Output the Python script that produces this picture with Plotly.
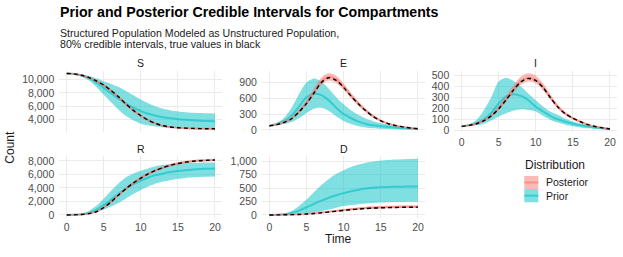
import plotly.graph_objects as go

# ---------------- data ----------------
time = list(range(21))

S_true      = [10910,10840,10640,10300,9800,9180,8350,7420,6350,5400,4620,3950,3450,3110,2920,2820,2760,2720,2690,2670,2660]
S_post_med  = [10910,10835,10630,10285,9780,9160,8330,7400,6330,5380,4600,3930,3430,3090,2900,2800,2740,2700,2670,2650,2640]
S_post_lo   = [10890,10800,10570,10190,9650,9000,8150,7210,6150,5210,4450,3800,3320,2990,2800,2700,2640,2600,2570,2550,2540]
S_post_hi   = [10930,10870,10690,10380,9910,9320,8510,7590,6510,5550,4750,4060,3540,3190,3000,2900,2840,2800,2770,2750,2740]
S_prior_med = [10910,10820,10600,10200,9550,8750,7950,7150,6400,5800,5300,4900,4600,4380,4220,4100,4000,3920,3860,3820,3790]
S_prior_lo  = [10890,10750,10420,9850,8900,7740,6600,5500,4550,3900,3420,3150,2990,2880,2810,2760,2720,2700,2680,2670,2660]
S_prior_hi  = [10930,10890,10770,10520,10180,9760,9350,8900,8300,7650,7020,6450,5980,5640,5400,5250,5140,5060,5000,4960,4940]

E_true      = [75,100,140,210,340,500,700,900,990,940,805,640,490,360,250,170,115,80,55,35,20]
E_post_med  = [75,102,145,218,352,515,720,925,1010,960,820,650,497,365,255,174,118,82,56,36,21]
E_post_lo   = [72,95,133,200,320,470,660,855,940,890,760,600,455,332,230,156,104,71,48,30,17]
E_post_hi   = [78,109,157,236,384,560,780,995,1075,1030,880,700,540,398,280,192,132,93,64,42,25]
E_prior_med = [75,110,170,270,440,620,685,660,560,420,300,220,155,110,85,70,55,42,32,24,18]
E_prior_lo  = [70,85,110,150,220,320,400,420,360,260,170,110,70,45,30,20,14,10,7,5,4]
E_prior_hi  = [80,130,230,420,680,900,976,920,780,620,485,370,280,215,165,130,100,75,55,38,26]

I_true      = [36,45,60,88,132,198,280,370,445,475,455,390,295,210,150,110,78,52,34,22,12]
I_post_med  = [36,46,62,90,136,203,287,378,453,482,460,394,298,212,151,110,78,52,34,22,12]
I_post_lo   = [34,42,56,82,123,185,262,347,418,447,428,365,275,195,138,100,70,46,30,19,10]
I_post_hi   = [38,50,68,99,150,223,314,412,492,522,500,428,325,233,167,122,87,59,39,25,14]
I_prior_med = [36,45,65,100,160,245,310,330,315,275,215,170,130,100,78,60,45,34,25,18,12]
I_prior_lo  = [34,38,45,60,90,126,155,180,192,185,171,130,95,70,50,36,26,18,12,9,6]
I_prior_hi  = [38,55,95,186,305,449,479,450,400,335,275,215,170,140,105,81,62,47,35,25,18]

R_true      = [0,20,80,200,480,1100,1950,2950,3900,4750,5450,6100,6600,7000,7350,7620,7820,7950,8040,8100,8140]
R_post_med  = [0,20,80,205,490,1110,1960,2960,3910,4760,5460,6110,6610,7010,7360,7630,7830,7960,8050,8110,8150]
R_post_lo   = [0,15,65,175,430,1010,1820,2790,3720,4560,5270,5930,6440,6850,7200,7470,7670,7800,7890,7950,7990]
R_post_hi   = [0,25,95,235,550,1210,2100,3130,4100,4960,5650,6290,6780,7170,7520,7790,7990,8120,8210,8270,8310]
R_prior_med = [0,25,100,300,750,1450,2300,3150,3900,4550,5100,5550,5900,6150,6350,6500,6620,6720,6800,6860,6900]
R_prior_lo  = [0,10,50,180,450,800,1250,1800,2450,3100,3700,4200,4650,4950,5150,5350,5480,5570,5630,5670,5700]
R_prior_hi  = [0,60,230,600,1350,2450,3600,4700,5600,6150,6560,6900,7200,7420,7560,7650,7700,7730,7750,7760,7770]

D_true      = [0,1,3,6,10,17,27,40,55,70,85,98,110,120,128,133,137,140,142,144,145]
D_post_med  = [0,1,3,7,12,19,30,44,60,76,92,106,118,128,136,142,146,149,151,152,153]
D_post_lo   = [0,1,2,5,9,15,24,36,50,64,78,90,101,110,117,122,125,127,128,129,130]
D_post_hi   = [0,2,5,9,15,24,37,54,73,92,110,126,140,151,160,166,170,173,175,176,177]
D_prior_med = [0,3,12,35,80,140,205,265,320,365,405,440,470,490,505,515,520,524,526,527,528]
D_prior_lo  = [0,1,3,8,15,25,45,70,100,135,165,185,200,212,222,230,236,240,243,245,246]
D_prior_hi  = [0,8,30,75,165,285,420,555,670,760,830,890,935,970,995,1012,1022,1030,1036,1040,1042]

compartments = ["S", "E", "I", "R", "D"]
x_ticks = [0, 5, 10, 15, 20]
S_ticks = [4000, 6000, 8000, 10000]
E_ticks = [0, 300, 600, 900]
I_ticks = [0, 100, 200, 300, 400, 500]
R_ticks = [0, 2000, 4000, 6000, 8000]
D_ticks = [0, 250, 500, 750, 1000]
legend_labels = ["Posterior", "Prior"]

title = "Prior and Posterior Credible Intervals for Compartments"
subtitle1 = "Structured Population Modeled as Unstructured Population,"
subtitle2 = "80% credible intervals, true values in black"

# ---------------- styling ----------------
W, H = 623, 257
FONT = "Liberation Sans"
PRIOR_FILL = "rgba(0,191,196,0.5)"
POST_FILL = "rgba(248,118,109,0.5)"
PRIOR_LINE = "rgba(0,191,196,0.6)"
POST_LINE = "rgba(248,118,109,0.6)"
GRID = "#EBEBEB"

def fx(p):
    return p / W

def fy(p):
    return 1 - p / H

cols_px = [(59.3, 222.4), (261.9, 425.4), (454.3, 617.4)]
rows_px = [(70.6, 133.5), (157.5, 220.2)]

panels = [
    dict(name="S", data=(S_true, S_post_med, S_post_lo, S_post_hi, S_prior_med, S_prior_lo, S_prior_hi),
         col=0, row=0, yt=S_ticks, xlab=False),
    dict(name="E", data=(E_true, E_post_med, E_post_lo, E_post_hi, E_prior_med, E_prior_lo, E_prior_hi),
         col=1, row=0, yt=E_ticks, xlab=False),
    dict(name="I", data=(I_true, I_post_med, I_post_lo, I_post_hi, I_prior_med, I_prior_lo, I_prior_hi),
         col=2, row=0, yt=I_ticks, xlab=True),
    dict(name="R", data=(R_true, R_post_med, R_post_lo, R_post_hi, R_prior_med, R_prior_lo, R_prior_hi),
         col=0, row=1, yt=R_ticks, xlab=True),
    dict(name="D", data=(D_true, D_post_med, D_post_lo, D_post_hi, D_prior_med, D_prior_lo, D_prior_hi),
         col=1, row=1, yt=D_ticks, xlab=True),
]

fig = go.Figure()
layout = dict(
    width=W, height=H,
    margin=dict(l=0, r=0, t=0, b=0),
    paper_bgcolor="white", plot_bgcolor="white",
    showlegend=False, hovermode=False,
    font=dict(family=FONT, color="#1A1A1A"),
)
annotations = []
shapes = []

line_kw = dict(shape="spline", smoothing=0.8)

for i, p in enumerate(panels, start=1):
    sfx = "" if i == 1 else str(i)
    xa, ya = "x" + sfx, "y" + sfx
    true_v, pm, pl, ph, qm, ql, qh = p["data"]
    allv = pl + ph + ql + qh + true_v + pm + qm
    lo, hi = min(allv), max(allv)
    span = hi - lo
    yr = [lo - 0.05 * span, hi + 0.05 * span]

    # prior ribbon
    fig.add_trace(go.Scatter(x=time, y=ql, mode="lines", line=dict(width=0, **line_kw),
                             xaxis=xa, yaxis=ya, hoverinfo="skip"))
    fig.add_trace(go.Scatter(x=time, y=qh, mode="lines", line=dict(width=0, **line_kw),
                             fill="tonexty", fillcolor=PRIOR_FILL, xaxis=xa, yaxis=ya, hoverinfo="skip"))
    fig.add_trace(go.Scatter(x=time, y=qm, mode="lines", line=dict(color=PRIOR_LINE, width=2, **line_kw),
                             xaxis=xa, yaxis=ya, hoverinfo="skip"))
    # posterior ribbon
    fig.add_trace(go.Scatter(x=time, y=pl, mode="lines", line=dict(width=0, **line_kw),
                             xaxis=xa, yaxis=ya, hoverinfo="skip"))
    fig.add_trace(go.Scatter(x=time, y=ph, mode="lines", line=dict(width=0, **line_kw),
                             fill="tonexty", fillcolor=POST_FILL, xaxis=xa, yaxis=ya, hoverinfo="skip"))
    fig.add_trace(go.Scatter(x=time, y=pm, mode="lines", line=dict(color=POST_LINE, width=2, **line_kw),
                             xaxis=xa, yaxis=ya, hoverinfo="skip"))
    # true values
    fig.add_trace(go.Scatter(x=time, y=true_v, mode="lines",
                             line=dict(color="black", width=1.4, dash="4px,3px", **line_kw),
                             xaxis=xa, yaxis=ya, hoverinfo="skip"))

    cx0, cx1 = cols_px[p["col"]]
    ry0, ry1 = rows_px[p["row"]]
    layout["xaxis" + sfx] = dict(
        domain=[fx(cx0), fx(cx1)], range=[-1, 21], anchor=ya,
        tickvals=x_ticks, showticklabels=p["xlab"], ticks="",
        showgrid=True, gridcolor=GRID, gridwidth=1, zeroline=False, showline=False,
        tickfont=dict(family=FONT, size=10.5, color="#4D4D4D"), ticklabelstandoff=2,
        fixedrange=True,
    )
    layout["yaxis" + sfx] = dict(
        domain=[fy(ry1), fy(ry0)], range=yr, anchor=xa,
        tickvals=p["yt"], tickformat=",d", ticks="",
        showgrid=True, gridcolor=GRID, gridwidth=1, zeroline=False, showline=False,
        tickfont=dict(family=FONT, size=10.5, color="#4D4D4D"), ticklabelstandoff=4,
        fixedrange=True,
    )
    # strip label
    annotations.append(dict(text=p["name"], x=fx((cx0 + cx1) / 2), y=fy(ry0 - 7.5),
                            xref="paper", yref="paper", xanchor="center", yanchor="middle",
                            showarrow=False, font=dict(family=FONT, size=10.5, color="#1A1A1A")))

# titles
annotations += [
    dict(text="<b>" + title + "</b>", x=fx(58), y=fy(11.5), xref="paper", yref="paper",
         xanchor="left", yanchor="middle", showarrow=False,
         font=dict(family=FONT, size=14.2, color="black")),
    dict(text=subtitle1, x=fx(58), y=fy(32.5), xref="paper", yref="paper",
         xanchor="left", yanchor="middle", showarrow=False,
         font=dict(family=FONT, size=10.6, color="#1A1A1A")),
    dict(text=subtitle2, x=fx(58), y=fy(43.5), xref="paper", yref="paper",
         xanchor="left", yanchor="middle", showarrow=False,
         font=dict(family=FONT, size=10.6, color="#1A1A1A")),
    dict(text="Count", x=fx(10), y=fy(148), xref="paper", yref="paper", textangle=-90,
         xanchor="center", yanchor="middle", showarrow=False,
         font=dict(family=FONT, size=12, color="#1A1A1A")),
    dict(text="Time", x=fx(339), y=fy(242), xref="paper", yref="paper",
         xanchor="center", yanchor="middle", showarrow=False,
         font=dict(family=FONT, size=12, color="#1A1A1A")),
    dict(text="Distribution", x=fx(523), y=fy(166.5), xref="paper", yref="paper",
         xanchor="left", yanchor="middle", showarrow=False,
         font=dict(family=FONT, size=12, color="#1A1A1A")),
]

# legend keys
key_fill = [POST_FILL, PRIOR_FILL]
key_line = [POST_LINE, PRIOR_LINE]
key_y = [(177.7, 191.0), (191.0, 204.5)]
for lab, kf, kl, (ky0, ky1) in zip(legend_labels, key_fill, key_line, key_y):
    shapes.append(dict(type="rect", xref="paper", yref="paper",
                       x0=fx(524.3), x1=fx(538.3), y0=fy(ky1), y1=fy(ky0),
                       fillcolor=kf, line=dict(width=0)))
    shapes.append(dict(type="line", xref="paper", yref="paper",
                       x0=fx(524.3), x1=fx(538.3), y0=fy((ky0 + ky1) / 2), y1=fy((ky0 + ky1) / 2),
                       line=dict(color=kl, width=2)))
    annotations.append(dict(text=lab, x=fx(544), y=fy((ky0 + ky1) / 2), xref="paper", yref="paper",
                            xanchor="left", yanchor="middle", showarrow=False,
                            font=dict(family=FONT, size=10.5, color="#1A1A1A")))

layout["annotations"] = annotations
layout["shapes"] = shapes
fig.update_layout(**layout)

fig.write_html(
    "out.html",
    config={"displayModeBar": False, "staticPlot": True},
    post_script="document.body.style.margin='0';document.body.style.overflow='hidden';",
)
